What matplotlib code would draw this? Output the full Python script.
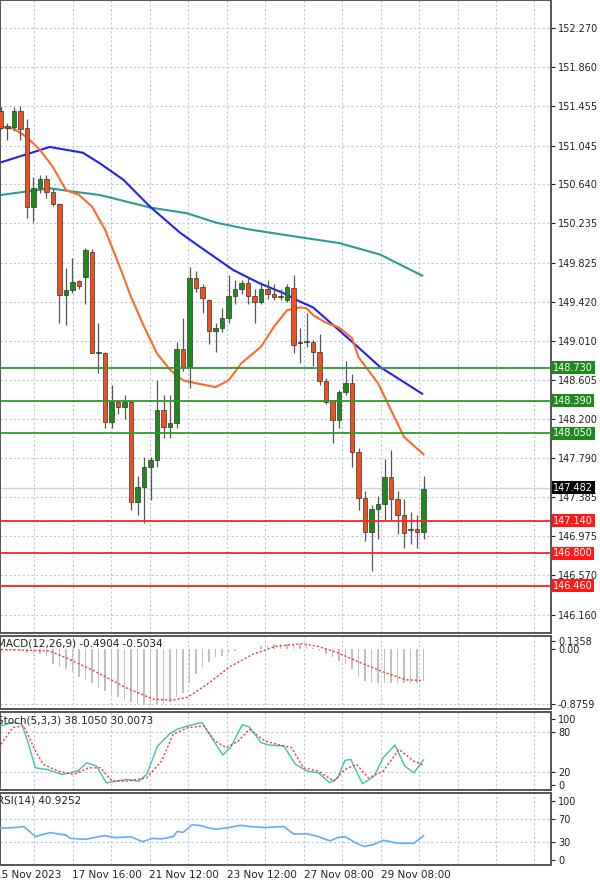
import matplotlib

matplotlib.use("Agg")
import matplotlib.pyplot as plt
import matplotlib.transforms as mtransforms
import numpy as np

# candles (4h)
opens = [151.40, 151.23, 151.24, 151.40, 151.23, 150.41, 150.60, 150.70, 150.56, 150.44,
         149.49, 149.54, 149.63, 149.68, 149.94, 148.88, 148.88, 148.17, 148.37, 148.32,
         148.37, 147.33, 147.49, 147.70, 147.77, 148.29, 148.11, 148.16, 148.93, 148.74,
         149.67, 149.57, 149.44, 149.11, 149.15, 149.25, 149.48, 149.55, 149.61, 149.48,
         149.42, 149.55, 149.50, 149.47, 149.44, 149.56, 148.99, 149.00, 149.00, 148.90,
         148.59, 148.40, 148.19, 148.48, 148.57, 147.85, 147.38, 147.02, 147.26, 147.31,
         147.59, 147.37, 147.20, 147.04, 147.05, 147.02]
closes = [151.23, 151.25, 151.40, 151.22, 150.41, 150.60, 150.70, 150.56, 150.44, 149.49,
          149.54, 149.62, 149.58, 149.96, 148.88, 148.88, 148.17, 148.37, 148.32, 148.38,
          147.33, 147.49, 147.70, 147.77, 148.29, 148.11, 148.16, 148.93, 148.74, 149.67,
          149.56, 149.46, 149.11, 149.15, 149.25, 149.48, 149.55, 149.61, 149.48, 149.42,
          149.55, 149.50, 149.47, 149.47, 149.57, 148.97, 149.00, 149.00, 148.90, 148.59,
          148.38, 148.19, 148.48, 148.57, 147.85, 147.38, 147.02, 147.26, 147.31, 147.59,
          147.37, 147.20, 147.01, 147.04, 147.02, 147.47]
highs = [151.45, 151.28, 151.45, 151.46, 151.32, 150.72, 150.74, 150.74, 150.60, 150.45,
         149.77, 149.87, 149.65, 149.98, 149.97, 149.20, 148.90, 148.55, 148.40, 148.45,
         148.40, 147.60, 147.80, 147.80, 148.60, 148.45, 148.45, 149.00, 149.25, 149.78,
         149.74, 149.60, 149.45, 149.20, 149.35, 149.70, 149.65, 149.65, 149.68, 149.55,
         149.62, 149.65, 149.60, 149.55, 149.60, 149.70, 149.15, 149.30, 149.02, 149.08,
         148.62, 148.40, 148.50, 148.80, 148.67, 147.90, 147.45, 147.30, 147.40, 147.78,
         147.88, 147.45, 147.36, 147.23, 147.20, 147.60]
lows = [151.22, 151.10, 151.20, 151.10, 150.29, 150.25, 150.55, 150.50, 150.42, 149.20,
        149.18, 149.51, 149.55, 149.40, 148.88, 148.68, 148.10, 148.10, 148.25, 148.20,
        147.25, 147.20, 147.12, 147.35, 147.70, 148.00, 148.00, 148.10, 148.70, 148.52,
        149.52, 149.30, 148.98, 148.90, 149.10, 149.20, 149.40, 149.50, 149.40, 149.20,
        149.40, 149.45, 149.44, 149.44, 149.42, 148.88, 148.78, 148.95, 148.75, 148.55,
        148.35, 147.95, 148.10, 148.45, 147.70, 147.25, 146.93, 146.62, 146.95, 147.15,
        147.15, 147.00, 146.85, 146.90, 146.86, 146.95]

# moving averages sampled at candle positions
ma_fast_x = [0, 2, 4, 6, 8, 10, 12, 14, 16, 18, 20, 22, 24, 26, 28, 30, 33, 35, 37, 40,
             42, 44, 46, 47, 48, 50, 52, 54, 55, 58, 60, 62, 65]
ma_fast = [151.24, 151.22, 151.13, 151.00, 150.82, 150.58, 150.53, 150.41, 150.17, 149.83,
           149.47, 149.16, 148.88, 148.71, 148.60, 148.57, 148.53, 148.60, 148.78, 148.95,
           149.16, 149.33, 149.36, 149.35, 149.28, 149.20, 149.15, 149.04, 148.84, 148.57,
           148.29, 148.01, 147.83]
ma_mid_x = [0, 7.5, 12.6, 15.2, 18.8, 22.9, 27.5, 30.6, 35.7, 39.8, 43.4, 46, 48, 54.2, 58.3, 64.8]
ma_mid = [150.87, 151.03, 150.97, 150.86, 150.69, 150.41, 150.14, 149.99, 149.75, 149.61,
          149.51, 149.42, 149.36, 148.99, 148.74, 148.46]
ma_slow_x = [0, 7.5, 11.7, 15.2, 22.9, 28.6, 33.2, 38.3, 46, 52, 58.3, 64.8]
ma_slow = [150.53, 150.60, 150.56, 150.53, 150.40, 150.34, 150.24, 150.17, 150.09, 150.03,
           149.91, 149.69]

support_green = [148.730, 148.390, 148.050]
support_red = [147.140, 146.800, 146.460]
last_price = 147.482
price_ticks = [152.270, 151.860, 151.455, 151.045, 150.640, 150.235, 149.825, 149.420,
               149.010, 148.605, 148.200, 147.790, 147.385, 146.975, 146.570, 146.160]

macd_hist = [-0.03, -0.03, -0.03, -0.03, -0.05, -0.05, -0.08, -0.10, -0.23, -0.28,
             -0.31, -0.36, -0.44, -0.49, -0.54, -0.62, -0.67, -0.72, -0.77, -0.82,
             -0.85, -0.875, -0.90, -0.90, -0.875, -0.875, -0.85, -0.77, -0.70, -0.54,
             -0.39, -0.28, -0.21, -0.13, -0.10, -0.05, -0.03, 0.0, 0.01, 0.03,
             0.05, 0.06, 0.08, 0.09, 0.09, 0.09, 0.09, 0.08, 0.03, -0.03,
             -0.08, -0.13, -0.18, -0.23, -0.31, -0.44, -0.51, -0.54, -0.54, -0.54,
             -0.54, -0.54, -0.54, -0.54, -0.54, -0.49]
macd_sig_x = [0, 7.5, 9.9, 14.6, 19.3, 23.4, 26.3, 28.7, 31.6, 35.2, 38.7, 42.2, 46.4,
              48.7, 51.7, 55.2, 58.7, 62.3, 65]
macd_sig = [0.0, -0.026, -0.13, -0.36, -0.62, -0.80, -0.82, -0.77, -0.57, -0.28, -0.08,
            0.05, 0.093, 0.05, -0.05, -0.21, -0.36, -0.49, -0.50]

stoch_k_x = [0, 1.8, 3.2, 4.1, 5.3, 7.1, 9.4, 11.8, 13.2, 14.7, 16.2, 17.6, 19.4, 21.2,
             22.4, 24.1, 25.9, 27.1, 28.8, 30.9, 32.4, 34.1, 35.3, 37.1, 38.2, 40, 41.2,
             43.5, 45.3, 47.1, 48.8, 50.6, 51.8, 52.9, 53.8, 55.6, 57.4, 58.8, 60.6, 62.1,
             63.5, 65]
stoch_k = [89.7, 94.7, 92.2, 66.7, 26.0, 23.5, 15.9, 21.0, 33.7, 28.6, 3.2, 5.8, 8.3, 5.8,
           15.9, 59.1, 77.0, 84.5, 89.7, 94.7, 71.8, 45.5, 56.6, 91.2, 88.1, 64.2, 60.6,
           59.1, 31.2, 21.0, 18.5, 3.2, 10.8, 37.2, 38.8, 1.7, 13.4, 41.4, 60.6, 28.6,
           18.5, 38.1]
stoch_d_x = [0, 1.8, 3.5, 5.3, 6.5, 8.8, 11.2, 13.5, 15.3, 17.1, 19.4, 22.4, 24.7, 26.5,
             28.8, 31.2, 32.9, 34.7, 36.5, 38.2, 40.6, 42.9, 44.7, 46.5, 48.8, 51.2, 52.9,
             54.7, 56.5, 58.8, 61.2, 63.5, 65]
stoch_d = [61.7, 87.0, 89.7, 51.5, 31.2, 21.0, 15.9, 26.0, 26.0, 5.8, 5.8, 10.8, 36.2,
           77.0, 87.0, 89.7, 66.7, 56.6, 66.7, 84.5, 66.7, 60.6, 56.6, 26.0, 21.0, 5.8,
           23.5, 31.2, 10.8, 21.0, 54.0, 36.2, 30.0]

rsi_x = [0, 2.4, 3.5, 4.4, 5.3, 6.5, 7.6, 8.8, 10, 10.6, 11.8, 12.9, 15.9, 17.6, 20, 21.8,
         23.3, 24.7, 26.5, 27.1, 28, 29.4, 30.6, 32.1, 33.2, 35.3, 36.8, 38.2, 40.6, 43.5,
         45, 47.1, 48.8, 50.6, 51.8, 52.9, 54.7, 55.9, 57.4, 58.8, 61.2, 63.5, 65]
rsi = [53.6, 54.8, 56.5, 48.1, 39.5, 43.5, 46.2, 44.0, 42.3, 36.6, 35.6, 34.9, 41.1, 37.8,
       39.0, 31.0, 36.6, 35.6, 39.5, 48.1, 46.5, 59.4, 58.3, 53.6, 51.9, 55.2, 58.3, 56.5,
       54.8, 56.5, 44.0, 44.0, 39.5, 32.2, 37.8, 39.5, 28.2, 22.6, 26.5, 33.3, 28.2, 28.2,
       40.9]

date_labels = ["15 Nov 2023", "17 Nov 16:00", "21 Nov 12:00", "23 Nov 12:00",
               "27 Nov 08:00", "29 Nov 08:00"]

GRID = dict(color="#b8c8e0", linestyle=(0, (2, 2)), linewidth=0.8)
XLIM = (-0.15, 84.6)
grid_x = np.arange(5.1, 84.6, 5.92)

fig = plt.figure(figsize=(6, 8.8), dpi=100)
W = 551 / 600


def panel(top_px, bottom_px):
    ax = fig.add_axes([0, 1 - bottom_px / 880, W, (bottom_px - top_px) / 880])
    ax.set_xlim(*XLIM)
    ax.set_xticks([])
    ax.yaxis.tick_right()
    ax.tick_params(axis="y", labelsize=7, length=3, colors="#222222", pad=2)
    for s in ax.spines.values():
        s.set_color("#555555")
        s.set_linewidth(1.4)
    for gx in grid_x:
        ax.axvline(gx, zorder=0, **GRID)
    return ax


# main price panel
ax = panel(0, 633)
ax.set_ylim(145.97, 152.56)
ax.set_yticks(price_ticks)
ax.set_yticklabels([f"{p:.3f}" for p in price_ticks])
for p in price_ticks:
    ax.axhline(p, zorder=0, **GRID)

ax.plot(ma_slow_x, ma_slow, color="#2a9d8f", lw=1.5, zorder=2)
ax.plot(ma_mid_x, ma_mid, color="#2222ee", lw=1.5, zorder=2)
ax.plot(ma_fast_x, ma_fast, color="#ff6a2a", lw=1.5, zorder=2)

idx = np.arange(len(opens))
for i in idx:
    o, c, h, l = opens[i], closes[i], highs[i], lows[i]
    up = c >= o
    ax.vlines(i, l, h, color="#555555", lw=0.9, zorder=3)
    body = max(abs(c - o), 0.012)
    ax.bar(i, body, bottom=min(o, c), width=0.72,
           color="#1e8a1e" if up else "#f0501e", edgecolor="#333333", lw=0.5, zorder=4)

trans = mtransforms.blended_transform_factory(ax.transAxes, ax.transData)
for p in support_green:
    ax.axhline(p, color="#2e9a2e", lw=1.3, zorder=5)
    ax.text(1.004, p, f"{p:.3f}", transform=trans, va="center", ha="left", fontsize=7,
            color="white", zorder=10, clip_on=False,
            bbox=dict(boxstyle="square,pad=0.15", fc="#1e8a1e", ec="none"))
for p in support_red:
    ax.axhline(p, color="#ff2020", lw=1.3, zorder=5)
    ax.text(1.004, p, f"{p:.3f}", transform=trans, va="center", ha="left", fontsize=7,
            color="white", zorder=10, clip_on=False,
            bbox=dict(boxstyle="square,pad=0.15", fc="#ff1a1a", ec="none"))
ax.axhline(last_price, color="#c8d4e8", lw=1.0, zorder=1)
ax.text(1.004, last_price, f"{last_price:.3f}", transform=trans, va="center", ha="left",
        fontsize=7, color="white", zorder=10, clip_on=False,
        bbox=dict(boxstyle="square,pad=0.15", fc="black", ec="none"))

# MACD
ax2 = panel(636, 709)
ax2.set_ylim(-0.96, 0.216)
ax2.set_yticks([0.1358, 0.0, -0.8759])
ax2.set_yticklabels(["0.1358", "0.00", "-0.8759"])
ax2.axhline(-0.8759, zorder=0, **GRID)
ax2.bar(idx, macd_hist, width=0.25, color="#c0c0c0", zorder=2)
ax2.plot(macd_sig_x, macd_sig, color="#ff3030", lw=1.0, linestyle=(0, (1.5, 1.5)), zorder=3)
ax2.text(-0.6, 0.17, "MACD(12,26,9) -0.4904 -0.5034", fontsize=7.5, color="#222222",
         va="top", ha="left")

# Stochastic
ax3 = panel(712, 790)
ax3.set_ylim(-7.6, 110.6)
ax3.set_yticks([100, 80, 20, 0])
for lv in (80, 20):
    ax3.axhline(lv, zorder=0, **GRID)
ax3.plot(stoch_k_x, stoch_k, color="#40c0b0", lw=1.0, zorder=3)
ax3.plot(stoch_d_x, stoch_d, color="#ff3030", lw=1.0, linestyle=(0, (1.5, 1.5)), zorder=3)
ax3.text(-0.6, 106, "Stoch(5,3,3) 38.1050 30.0073", fontsize=7.5, color="#222222",
         va="top", ha="left")

# RSI
ax4 = panel(793, 865)
ax4.set_ylim(-8.4, 113)
ax4.set_yticks([100, 70, 30, 0])
for lv in (70, 30):
    ax4.axhline(lv, zorder=0, **GRID)
ax4.plot(rsi_x, rsi, color="#66aaff", lw=1.2, zorder=3)
ax4.text(-0.6, 108, "RSI(14) 40.9252", fontsize=7.5, color="#222222", va="top", ha="left")

# date labels under the last panel
for k, lab in enumerate(date_labels):
    xpx = -5 + 77.2 * k
    fig.text(xpx / 600, 1 - 875 / 880, lab, fontsize=7.5, color="#222222",
             ha="left", va="center")

fig.savefig("out.png", dpi=100)
